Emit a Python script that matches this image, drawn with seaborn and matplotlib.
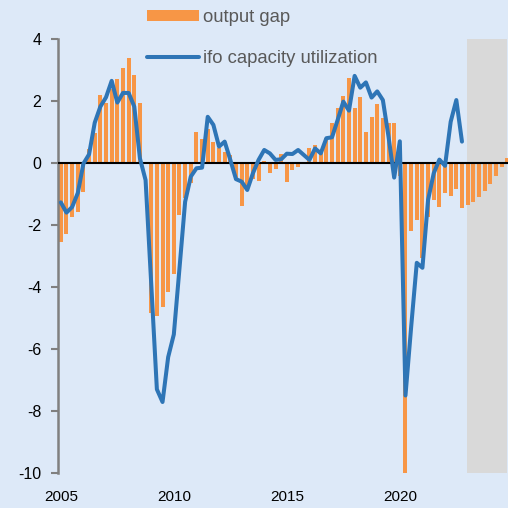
import matplotlib
matplotlib.use("Agg")
import matplotlib.pyplot as plt
import numpy as np
import pandas as pd
import seaborn as sns

# quarterly data, 2005Q1 .. 2024Q4 (output gap), ifo until 2022Q4
start_year = 2005
output_gap = [-2.54, -2.30, -1.75, -1.57, -0.93, 0.45, 0.98, 2.19,
              1.93, 2.40, 2.72, 3.06, 3.40, 2.85, 1.93, 0.04,
              -4.85, -4.94, -4.63, -4.17, -3.59, -1.68, -1.14, -0.63,
              1.01, 0.78, 1.10, 0.68, 0.47, 0.37, 0.26, -0.55,
              -1.38, -0.85, -0.50, -0.58, 0.06, -0.33, -0.18, 0.29,
              -0.60, -0.23, -0.12, -0.04, 0.50, 0.58, 0.42, 0.80,
              1.28, 1.76, 2.15, 2.73, 1.76, 2.13, 1.00, 1.47,
              1.90, 1.46, 1.28, 1.28, -0.42, -10.06, -2.20, -1.83,
              -3.05, -1.73, -1.19, -1.42, -0.98, -1.07, -0.85, -1.46,
              -1.36, -1.25, -1.09, -0.90, -0.67, -0.41, -0.14, 0.15]
ifo_capacity = [-1.27, -1.60, -1.42, -0.97, -0.02, 0.28, 1.30, 1.82,
                2.12, 2.65, 1.95, 2.26, 2.26, 1.82, 0.15, -0.55,
                -3.90, -7.30, -7.71, -6.26, -5.53, -3.40, -1.25, -0.44,
                -0.17, -0.15, 1.49, 1.23, 0.53, 0.69, 0.10, -0.52,
                -0.60, -0.87, -0.33, 0.10, 0.42, 0.31, 0.10, 0.12,
                0.30, 0.29, 0.42, 0.26, 0.10, 0.47, 0.31, 0.80,
                0.83, 1.39, 1.98, 1.69, 2.81, 2.43, 2.60, 2.11,
                2.31, 2.03, 0.85, -0.47, 0.70, -7.50, -5.30, -3.22,
                -3.38, -1.19, -0.33, 0.11, -0.09, 1.33, 2.03, 0.69]
year_ticks = [2005, 2010, 2015, 2020]
forecast_span = (2022.99, 2024.76)

quarters = start_year + np.arange(len(output_gap)) / 4
df_gap = pd.DataFrame({"t": quarters, "gap": output_gap})
df_ifo = pd.DataFrame({"t": quarters[:len(ifo_capacity)], "ifo": ifo_capacity})

sns.set_style("white")
plt.rcParams["font.family"] = ["Liberation Sans", "DejaVu Sans"]
plt.rcParams["axes.unicode_minus"] = False

bg = "#DDE9F8"
fig = plt.figure(figsize=(5.08, 5.08), dpi=100, facecolor=bg)
ax = fig.add_axes([58 / 508, 35 / 508, 452 / 508, 434 / 508])
ax.set_facecolor(bg)

ax.axvspan(*forecast_span, color="#D9D9D9", lw=0, zorder=0)
sns.barplot(data=df_gap, x="t", y="gap", native_scale=True, orient="x",
            color="#F79646", saturation=1, width=0.7, errorbar=None,
            linewidth=0, label="output gap", ax=ax, zorder=2)
ax.axhline(0, color="black", lw=1.5, zorder=3)
sns.lineplot(data=df_ifo, x="t", y="ifo", color="#2E75B6", lw=2.9,
             label="ifo capacity utilization", ax=ax, zorder=4)

ax.set_xlim(start_year - 0.125, start_year + 19.875)
ax.set_ylim(-10, 4)
ax.set_yticks(range(-10, 5, 2))
ax.set_xticks(year_ticks)
ax.set_xticklabels([str(y) for y in year_ticks])
ax.set_xlabel("")
ax.set_ylabel("")
for s in ["top", "right", "bottom"]:
    ax.spines[s].set_visible(False)
ax.spines["left"].set_color("#808080")
ax.spines["left"].set_linewidth(1.8)
ax.tick_params(axis="y", length=5, width=1.5, color="#808080",
               labelsize=11.5, labelcolor="black", pad=7, left=True)
ax.tick_params(axis="x", length=0, labelsize=11, labelcolor="black", pad=12)

handles, labels = ax.get_legend_handles_labels()
order = [labels.index("output gap"), labels.index("ifo capacity utilization")]
leg = fig.legend([handles[i] for i in order], [labels[i] for i in order],
                 loc="center left",
                 bbox_to_anchor=(147 / 508, 1 - 38 / 508),
                 frameon=False, fontsize=13.3, borderpad=0, borderaxespad=0,
                 handlelength=2.8, handletextpad=0.25, labelspacing=1.3,
                 handleheight=0.55)
for t in leg.get_texts():
    t.set_color("#595959")
if ax.get_legend() is not None:
    ax.get_legend().remove()

fig.savefig("out.png", dpi=100, facecolor=bg)
